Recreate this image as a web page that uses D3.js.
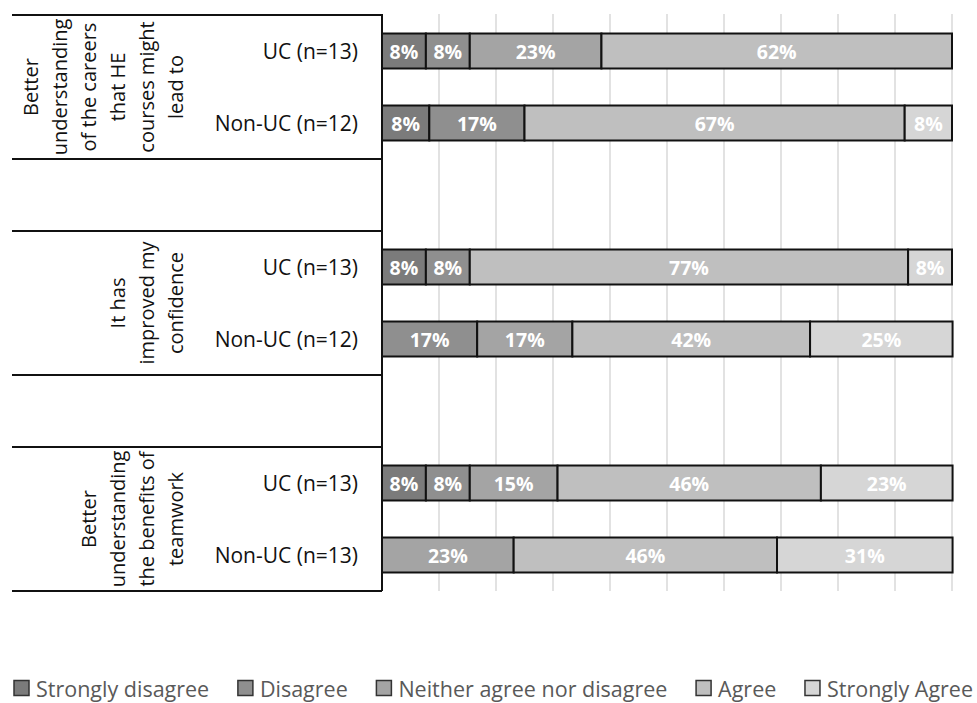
<!DOCTYPE html>
<html>
<head>
<meta charset="utf-8">
<script src="https://cdn.jsdelivr.net/npm/d3@7"></script>
<style>
  html, body { margin: 0; padding: 0; background: #fff; }
  svg { display: block; }
  text { font-family: "Open Sans", sans-serif; }
</style>
</head>
<body>
<svg id="chart" width="977" height="703"></svg>
<script>
// ---- data ----
const groupLabels = [
  ["Better", "understanding", "of the careers", "that HE", "courses might", "lead to"],
  ["It has", "improved my", "confidence"],
  ["Better", "understanding", "the benefits of", "teamwork"]
];
const categories = ["UC (n=13)", "Non-UC (n=12)", "", "UC (n=13)", "Non-UC (n=12)", "", "UC (n=13)", "Non-UC (n=13)"];
const rowGroup = [0, 0, null, 1, 1, null, 2, 2];
const seriesNames = ["Strongly disagree", "Disagree", "Neither agree nor disagree", "Agree", "Strongly Agree"];
const stronglyDisagree = [7.7, 8.3, 0, 7.7, 0, 0, 7.7, 0];
const disagree         = [7.7, 16.7, 0, 7.7, 16.7, 0, 7.7, 0];
const neither          = [23.1, 0, 0, 0, 16.7, 0, 15.4, 23.1];
const agree            = [61.5, 66.7, 0, 76.9, 41.7, 0, 46.2, 46.2];
const stronglyAgree    = [0, 8.3, 0, 7.7, 25.0, 0, 23.1, 30.8];
const xTicks = [0, 10, 20, 30, 40, 50, 60, 70, 80, 90, 100];

const colors = ["#7b7b7b", "#8f8f8f", "#a4a4a4", "#bfbfbf", "#d6d6d6"];
const seriesValues = [stronglyDisagree, disagree, neither, agree, stronglyAgree];

const svg = d3.select("#chart");
const rowKeys = categories.map((c, i) => "r" + i);

const x = d3.scaleLinear().domain([0, 100]).range([382, 952]);
const y = d3.scaleBand().domain(rowKeys).range([15, 591]).paddingInner(0.514).paddingOuter(0.257);
const bw = y.bandwidth();

// gridlines
svg.append("g").selectAll("line").data(xTicks.slice(1)).join("line")
  .attr("x1", d => x(d)).attr("x2", d => x(d))
  .attr("y1", 14).attr("y2", 591)
  .attr("stroke", "#d9d9d9").attr("stroke-width", 1.5);

// stacked data
const table = rowKeys.map((k, i) => {
  const o = { key: k };
  seriesNames.forEach((s, j) => o[s] = seriesValues[j][i]);
  return o;
});
const stack = d3.stack().keys(seriesNames)(table);

const gBars = svg.append("g");
stack.forEach((layer, j) => {
  layer.forEach(seg => {
    const v = seg[1] - seg[0];
    if (v <= 0) return;
    const k = seg.data.key;
    gBars.append("rect")
      .attr("x", x(seg[0])).attr("y", y(k))
      .attr("width", x(seg[1]) - x(seg[0])).attr("height", bw)
      .attr("fill", colors[j]).attr("stroke", "#111").attr("stroke-width", 2);
  });
});
stack.forEach((layer, j) => {
  layer.forEach(seg => {
    const v = seg[1] - seg[0];
    if (v <= 0) return;
    const k = seg.data.key;
    gBars.append("text")
      .attr("x", (x(seg[0]) + x(seg[1])) / 2).attr("y", y(k) + bw / 2)
      .attr("text-anchor", "middle").attr("dominant-baseline", "central")
      .attr("fill", "#fff").attr("font-weight", "bold").attr("font-size", 19.5)
      .text(Math.round(v) + "%");
  });
});

// axis line
svg.append("line").attr("x1", 382).attr("x2", 382).attr("y1", 14).attr("y2", 591)
  .attr("stroke", "#111").attr("stroke-width", 2);

// category boundaries
const step = y.step();
const boundaries = [y.range()[0]];
for (let i = 0; i < rowKeys.length - 1; i++) {
  if (rowGroup[i] === null || rowGroup[i] !== rowGroup[i + 1]) {
    boundaries.push(y(rowKeys[i]) + bw + (step - bw) / 2);
  }
}
boundaries.push(y.range()[1]);
svg.append("g").selectAll("line").data(boundaries).join("line")
  .attr("x1", 12).attr("x2", 382).attr("y1", d => d).attr("y2", d => d)
  .attr("stroke", "#111").attr("stroke-width", 2);

// sub labels
svg.append("g").selectAll("text").data(categories).join("text")
  .attr("x", 358).attr("y", (d, i) => y(rowKeys[i]) + bw / 2)
  .attr("text-anchor", "end").attr("dominant-baseline", "central")
  .attr("font-size", 21).attr("fill", "#111")
  .text(d => d);

// group labels
groupLabels.forEach((lines, gi) => {
  const rows = rowKeys.filter((k, i) => rowGroup[i] === gi);
  const cy = (y(rows[0]) + y(rows[rows.length - 1]) + bw) / 2;
  const n = lines.length;
  lines.forEach((ln, li) => {
    const lx = 175 - 29 * (n - 1 - li);
    svg.append("text")
      .attr("transform", `translate(${lx},${cy}) rotate(-90)`)
      .attr("text-anchor", "middle").attr("dominant-baseline", "central")
      .attr("font-size", 20).attr("fill", "#111")
      .text(ln);
  });
});

// legend
const lg = svg.append("g");
const itemW = [];
const itemG = [];
seriesNames.forEach((s, j) => {
  const g = lg.append("g");
  g.append("rect").attr("x", 0).attr("y", -7.5).attr("width", 15).attr("height", 15)
    .attr("fill", colors[j]).attr("stroke", "#333").attr("stroke-width", 1.5);
  const t = g.append("text").attr("x", 22).attr("y", 0)
    .attr("dominant-baseline", "central").attr("font-size", 21.5).attr("fill", "#595959").text(s);
  itemW.push(22 + t.node().getComputedTextLength());
  itemG.push(g);
});
const legendLeft = 14, legendRight = 973;
const gap = (legendRight - legendLeft - d3.sum(itemW)) / (itemW.length - 1);
let lx = 0;
itemG.forEach((g, j) => { g.attr("transform", `translate(${lx},0)`); lx += itemW[j] + gap; });
lg.attr("transform", `translate(${legendLeft},688)`);
</script>
</body>
</html>
